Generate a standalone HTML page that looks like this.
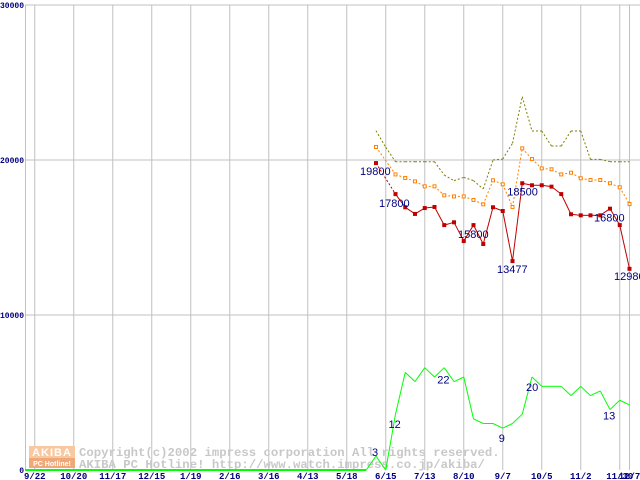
<!DOCTYPE html>
<html><head><meta charset="utf-8"><style>
html,body{margin:0;padding:0;background:#fff;}
svg{display:block;}
</style></head><body>
<svg id="chart" width="640" height="480" xmlns="http://www.w3.org/2000/svg"></svg>
<script>
const xTickLabels=["9/22","10/20","11/17","12/15","1/19","2/16","3/16","4/13","5/18","6/15","7/13","8/10","9/7","10/5","11/2","11/30","12/7"];
const xTickWeeks=[-35,-31,-27,-23,-19,-15,-11,-7,-3,1,5,9,13,17,21,25,26];
const yTicks=[0,10000,20000,30000];
const weeks=[0,1,2,3,4,5,6,7,8,9,10,11,12,13,14,15,16,17,18,19,20,21,22,23,24,25,26];
const minPrice=[19800,null,17800,16950,16520,16900,16970,15800,15980,14770,15800,14580,16950,16710,13477,18500,18370,18370,18280,17800,16500,16430,16430,16430,16860,15800,12980];
const avgPrice=[20840,null,19070,18840,18620,18300,18300,17720,17650,17650,17420,17140,18690,18430,16970,20750,20060,19460,19400,19070,19180,18820,18710,18710,18500,18240,17160];
const maxPrice=[21890,20820,19890,19890,19890,19890,19890,19030,18670,18880,18670,18130,20000,20060,21080,24090,21870,21870,20900,20900,21870,21870,20040,20040,19890,19890,19890];
const shopCount=[3,0,12,21,19,22,20,22,19,20,11,10,10,9,10,12,20,18,18,18,16,18,16,17,13,15,14];
const priceLabels=[[0,"19800",-16,12],[2,"17800",-16.5,13],[10,"15800",-15.5,13],[14,"13477",-15.5,12],[15,"18500",-15,12],[24,"16800",-16,13],[26,"12980",-15.5,11]];
const countLabels=[[0,"3",-4,0],[2,"12",-7,14],[7,"22",-7,16],[13,"9",-4,14],[16,"20",-6,14],[24,"13",-7,10]];

const NS="http://www.w3.org/2000/svg";
const svg=document.getElementById('chart');
const X=w=>376+9.75*w;
const Y=v=>470-v*0.0155;
const YC=c=>470-c*4.65;
function mk(tag,attrs,parent){const e=document.createElementNS(NS,tag);for(const k in attrs)e.setAttribute(k,attrs[k]);(parent||svg).appendChild(e);return e;}

const grid=mk('g',{});


xTickWeeks.forEach((w,i)=>{
  const l=mk('line',{x1:X(w),x2:X(w),y1:Y(30000),y2:470,stroke:'#c0c0c0','stroke-width':1},grid);
  
  
  const t=mk('text',{x:X(w),y:479,'text-anchor':'middle','font-family':'Liberation Mono, monospace','font-size':'9','font-weight':'bold',fill:'#000080'});
  t.textContent=xTickLabels[i];
  
  
});
yTicks.forEach(v=>{
  if(v>0){const l=mk('line',{x1:25,x2:640,y1:Y(v),y2:Y(v),stroke:'#c0c0c0','stroke-width':1},grid);
  
  }
  const t=mk('text',{x:24,y:Y(v)+3,'text-anchor':'end','font-family':'Liberation Mono, monospace','font-size':'8','font-weight':'bold',fill:'#000080'});
  t.textContent=String(v);
  
  
});
const ax=mk('line',{x1:25.5,x2:25.5,y1:Y(30000),y2:470,stroke:'#c0c0c0'});



const wm=mk('g',{});


mk('rect',{x:29,y:446,width:46,height:12,fill:'#f8c8a0'},wm);
mk('rect',{x:29,y:458,width:46,height:10,fill:'#f0a878'},wm);
const a1=mk('text',{x:52,y:456,'text-anchor':'middle','font-family':'Liberation Sans, sans-serif','font-size':'11','font-weight':'bold',fill:'#fff','letter-spacing':'1'},wm);a1.textContent='AKIBA';
const a2=mk('text',{x:52,y:466,'text-anchor':'middle','font-family':'Liberation Sans, sans-serif','font-size':'7','font-weight':'bold',fill:'#fff'},wm);a2.textContent='PC Hotline!';
const c1=mk('text',{x:79,y:456,'font-family':'Liberation Mono, monospace','font-size':'12.3','font-weight':'bold',fill:'#c8c8c8'},wm);c1.textContent='Copyright(c)2002 impress corporation All rights reserved.';
const c2=mk('text',{x:79,y:468,'font-family':'Liberation Mono, monospace','font-size':'12.3','font-weight':'bold',fill:'#c8c8c8','xml:space':'preserve'},wm);c2.textContent='AKIBA PC Hotline!  http://www.watch.impress.co.jp/akiba/';

function series(vals,yf,color,dash,name){
  const g=mk('g',{});
  
  
  let prev=null;
  weeks.forEach((w,i)=>{
    const v=vals[i]; if(v==null) return;
    if(prev){
      const gap=w-prev.w>1;
      mk('line',{x1:X(prev.w),y1:yf(prev.v),x2:X(w),y2:yf(v),stroke:color,'stroke-width':1,'stroke-dasharray':(dash||gap)?'2,2':'none'},g);
    }
    prev={w,v};
  });
  return g;
}
const gz=mk('line',{x1:25,y1:470,x2:X(-1),y2:470,stroke:'#00ff00','stroke-width':2});


const gzc=mk('line',{x1:X(-1),y1:470,x2:X(0),y2:YC(shopCount[0]),stroke:'#00ff00'});


series(maxPrice,Y,'#808000',true,'max-price-line');
const og=series(avgPrice,Y,'#ff8000',true,'avg-price-line');
weeks.forEach((w,i)=>{if(avgPrice[i]==null)return;
  const r=mk('rect',{x:X(w)-1.5,y:Y(avgPrice[i])-1.5,width:3,height:3,fill:'#fff',stroke:'#ff8000','stroke-width':1},og);
  
  });
const rg=series(minPrice,Y,'#c00000',false,'min-price-line');
weeks.forEach((w,i)=>{if(minPrice[i]==null)return;
  const r=mk('rect',{x:X(w)-2,y:Y(minPrice[i])-2,width:4,height:4,fill:'#c00000'},rg);
  
  });
series(shopCount,YC,'#00ff00',false,'shop-count-line');

priceLabels.forEach(([i,s,dx,dy])=>{
  const t=mk('text',{x:X(weeks[i])+dx,y:Y(minPrice[i])+dy,'font-family':'Liberation Sans, sans-serif','font-size':'11',fill:'#000080'});
  t.textContent=s;
  
  
});
countLabels.forEach(([i,s,dx,dy])=>{
  const t=mk('text',{x:X(weeks[i])+dx,y:YC(shopCount[i])+dy,'font-family':'Liberation Sans, sans-serif','font-size':'11',fill:'#000080'});
  t.textContent=s;
  
  
});
</script>
</body></html>
